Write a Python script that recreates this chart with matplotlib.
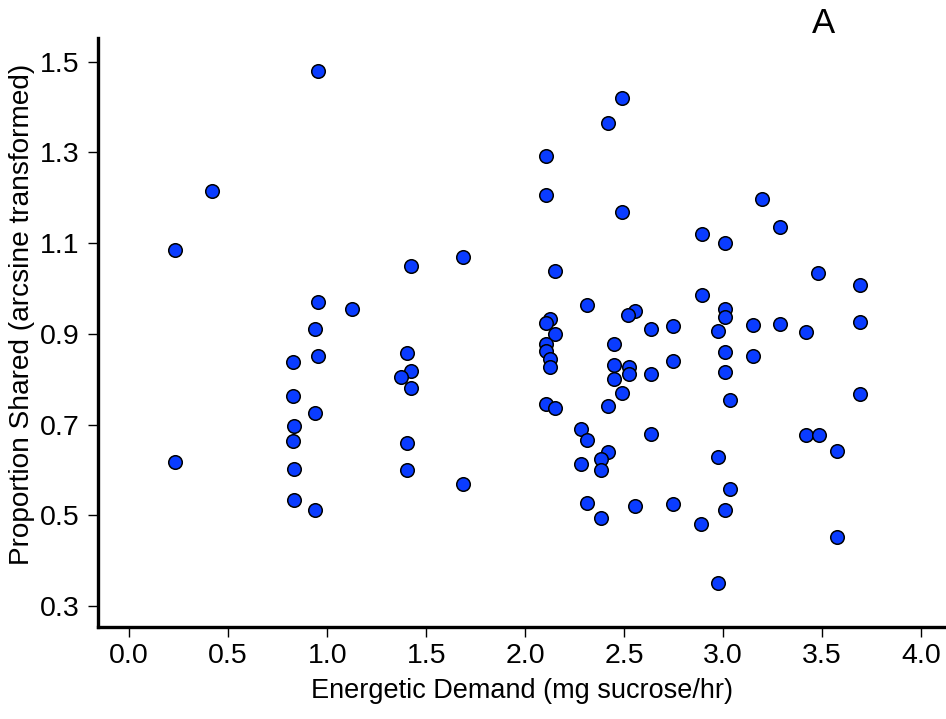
import matplotlib
matplotlib.use("Agg")
import matplotlib.pyplot as plt

plt.rcParams['font.family'] = ['Liberation Sans', 'DejaVu Sans']

# Energetic demand (mg sucrose/hr) for each colony observation
energetic_demand = [
    0.232, 0.232, 0.418, 0.951, 0.951, 0.938, 0.951, 0.938, 0.938,
    0.827, 0.827, 0.832, 0.827, 0.832, 0.832, 1.123,
    1.423, 1.401, 1.425, 1.371, 1.425, 1.401, 1.401, 1.687, 1.687,
    2.103, 2.103, 2.150, 2.125, 2.103, 2.150, 2.105, 2.105, 2.125, 2.125,
    2.105, 2.150,
    2.310, 2.281, 2.310, 2.281, 2.310,
    2.419, 2.419, 2.419, 2.382, 2.382, 2.382, 2.448, 2.448, 2.448,
    2.488, 2.488, 2.490,
    2.554, 2.520, 2.524, 2.524, 2.554,
    2.633, 2.633, 2.633,
    2.747, 2.747, 2.747,
    2.891, 2.891, 2.889,
    2.973, 2.973, 2.973, 3.010, 3.010, 3.007, 3.010, 3.007, 3.007,
    3.032, 3.032,
    3.148, 3.148, 3.196, 3.285, 3.285,
    3.419, 3.419, 3.480, 3.482,
    3.574, 3.574,
    3.689, 3.689, 3.689,
]

# Proportion of food shared (arcsine transformed)
proportion_shared = [
    1.085, 0.617, 1.214, 1.479, 0.969, 0.911, 0.852, 0.725, 0.511,
    0.837, 0.763, 0.697, 0.664, 0.603, 0.534, 0.955,
    1.049, 0.857, 0.818, 0.805, 0.780, 0.659, 0.600, 1.069, 0.569,
    1.292, 1.205, 1.038, 0.932, 0.923, 0.900, 0.877, 0.861, 0.844, 0.827,
    0.745, 0.737,
    0.964, 0.690, 0.666, 0.614, 0.526,
    1.364, 0.741, 0.640, 0.625, 0.600, 0.494, 0.878, 0.832, 0.800,
    1.420, 1.168, 0.769,
    0.951, 0.941, 0.827, 0.811, 0.521,
    0.911, 0.811, 0.678,
    0.918, 0.839, 0.525,
    1.119, 0.986, 0.481,
    0.906, 0.628, 0.350, 1.101, 0.954, 0.936, 0.859, 0.816, 0.511,
    0.753, 0.558,
    0.919, 0.852, 1.198, 1.136, 0.921,
    0.904, 0.676, 1.034, 0.676,
    0.641, 0.452,
    1.008, 0.926, 0.767,
]

x_ticks = [0.0, 0.5, 1.0, 1.5, 2.0, 2.5, 3.0, 3.5, 4.0]
y_ticks = [0.3, 0.5, 0.7, 0.9, 1.1, 1.3, 1.5]

fig = plt.figure(figsize=(9.46, 7.19), dpi=100)
ax = fig.add_axes([0.1035, 0.1286, 0.8965, 0.8185])

ax.scatter(energetic_demand, proportion_shared, s=95, c='#0A3CFF',
           edgecolors='black', linewidths=1.1, zorder=3, clip_on=False)

ax.set_xlim(-0.158, 4.125)
ax.set_ylim(0.2546, 1.552)
ax.set_xticks(x_ticks)
ax.set_xticklabels([f"{t:.1f}" for t in x_ticks])
ax.set_yticks(y_ticks)
ax.set_yticklabels([f"{t:.1f}" for t in y_ticks])

for side in ('top', 'right'):
    ax.spines[side].set_visible(False)
for side in ('left', 'bottom'):
    ax.spines[side].set_linewidth(2.4)

ax.tick_params(axis='both', direction='out', length=7, width=1.0,
               labelsize=20.5, color='black')
ax.tick_params(axis='x', pad=5)
ax.tick_params(axis='y', pad=6)

ax.set_xlabel("Energetic Demand (mg sucrose/hr)", fontsize=19.5, labelpad=6)
ax.set_ylabel("Proportion Shared (arcsine transformed)", fontsize=20.2)
ax.yaxis.set_label_coords(-0.0745, 0.531)

fig.text(0.870, 0.967, "A", fontsize=25, ha='center', va='center')

fig.savefig("out.png", dpi=100)
